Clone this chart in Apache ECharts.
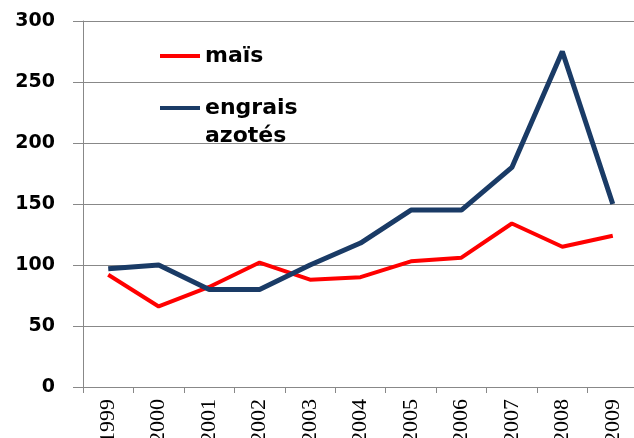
<!DOCTYPE html>
<html><head><meta charset="utf-8">
<script src="https://cdn.jsdelivr.net/npm/echarts@6/dist/echarts.min.js"></script>
<style>html,body{margin:0;padding:0;background:#fff}#c{width:634px;height:438px}</style>
</head><body><div id="c"></div>
<script>
var years = ['1999','2000','2001','2002','2003','2004','2005','2006','2007','2008','2009'];
var mais = [92, 66, 82, 102, 88, 90, 103, 106, 134, 115, 124];
var engrais = [97, 100, 80, 80, 100, 118, 145, 145, 180, 275, 150];
var yTicks = {min: 0, max: 300, interval: 50};

var chart = echarts.init(document.getElementById('c'));
chart.setOption({
  animation: false,
  backgroundColor: '#fff',
  grid: {left: 83, right: -4, top: 21, bottom: 51, outerBoundsMode: 'none', containLabel: false},
  legend: {
    orient: 'vertical', left: 155, top: 37, itemWidth: 40, itemHeight: 4, itemGap: -4,
    icon: 'rect',
    textStyle: {fontFamily: 'DejaVu Sans', fontWeight: 'bold', fontSize: 22, color: '#000', lineHeight: 28},
    formatter: function (n) { return n === 'maïs' ? n : ' \nengrais\nazotés'; },
    data: ['maïs', 'engrais azotés']
  },
  xAxis: {
    type: 'category', data: years, boundaryGap: true,
    axisLine: {lineStyle: {color: '#888', width: 1}},
    axisTick: {show: true, length: 6, lineStyle: {color: '#888'}},
    axisLabel: {rotate: 90, margin: 12, fontFamily: 'Liberation Sans Narrow', fontSize: 22, color: '#000'}
  },
  yAxis: {
    type: 'value', min: yTicks.min, max: yTicks.max, interval: yTicks.interval,
    axisLine: {show: true, lineStyle: {color: '#888', width: 1}},
    axisTick: {show: true, length: 10, lineStyle: {color: '#888'}},
    splitLine: {show: true, lineStyle: {color: '#888', width: 1}},
    axisLabel: {margin: 28, fontFamily: 'DejaVu Sans', fontWeight: 'bold', fontSize: 19, color: '#000'}
  },
  series: [
    {name: 'maïs', type: 'line', data: mais, showSymbol: false, symbol: 'none',
     lineStyle: {color: '#ff0000', width: 4}, itemStyle: {color: '#ff0000'}},
    {name: 'engrais azotés', type: 'line', data: engrais, showSymbol: false, symbol: 'none',
     lineStyle: {color: '#1a3b66', width: 5}, itemStyle: {color: '#1a3b66'}}
  ]
});
</script></body></html>
